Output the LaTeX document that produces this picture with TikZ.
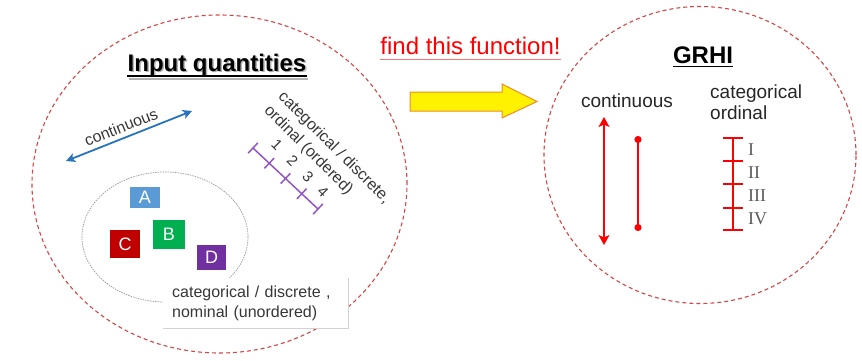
\documentclass[tikz,border=0pt]{standalone}
\usepackage{fontspec}
\setmainfont{Liberation Sans}
\newfontfamily\romfont{Liberation Serif}
\usetikzlibrary{arrows.meta,shapes.geometric}
\definecolor{circred}{RGB}{210,70,70}
\definecolor{arrblue}{RGB}{40,115,190}
\definecolor{scalepurple}{RGB}{145,85,195}
\definecolor{boxA}{RGB}{91,155,213}
\definecolor{boxB}{RGB}{0,176,80}
\definecolor{boxC}{RGB}{192,0,0}
\definecolor{boxD}{RGB}{112,48,160}
\definecolor{txtgrey}{RGB}{55,55,55}
\definecolor{arroworange}{RGB}{235,140,40}
\begin{document}
\begin{tikzpicture}[x=1pt,y=-1pt,
  redcirc/.style={ellipse, draw=circred, dash pattern=on 4pt off 3pt, line width=1.1pt, inner sep=0pt},
  catbox/.style={inner sep=0pt, text=white, font=\fontsize{18}{18}\selectfont},
  plain/.style={inner sep=0pt, text=txtgrey},
  redline/.style={draw=red, line width=1.8pt},
  purpleline/.style={draw=scalepurple, line width=1.5pt}]
\useasboundingbox (0,0) rectangle (862,361);

% big circles
\node[redcirc, minimum width=375pt, minimum height=338pt] (inputs) at (219.5,184) {};
\node[redcirc, minimum width=312pt, minimum height=297pt] (grhi) at (700,155) {};

% titles
\node[inner sep=0pt, anchor=base, text=gray!60, font=\fontsize{24}{28}\selectfont\bfseries] (titleshadow) at (218.5,73) {Input quantities};
\draw[gray!60, line width=1.5pt] ([yshift=-6pt]titleshadow.base west) -- ([yshift=-6pt]titleshadow.base east);
\node[inner sep=0pt, anchor=base, font=\fontsize{24}{28}\selectfont\bfseries] (title) at (217,71.5) {Input quantities};
\draw[line width=1.5pt] ([yshift=-4.5pt]title.base west) -- ([yshift=-4.5pt]title.base east);

\node[inner sep=0pt, anchor=base, text=red, font=\fontsize{24}{28}\selectfont] (find) at (470.5,55) {find this function!};
\draw[red!55, line width=1pt] ([yshift=-4.5pt]find.base west) -- ([yshift=-4.5pt]find.base east);

\node[inner sep=0pt, anchor=base, font=\fontsize{24}{28}\selectfont\bfseries] (gtitle) at (703,63.3) {GRHI};
\draw[line width=1.3pt] ([yshift=-3.5pt]gtitle.base west) -- ([yshift=-3.5pt]gtitle.base east);

% yellow arrow
\draw[fill=yellow, draw=arroworange, line width=1pt] (410,92) -- (502,92) -- (502,84) -- (537,101.5) -- (502,118) -- (502,111) -- (410,111) -- cycle;

% continuous (left)
\coordinate (cl1) at (66,161);
\coordinate (cl2) at (192,111);
\draw[draw=arrblue, line width=1.8pt, {Stealth[length=9pt,width=9pt,inset=2pt]}-{Stealth[length=9pt,width=9pt,inset=2pt]}] (cl1) -- (cl2);
\node[plain, rotate=21.6, font=\fontsize{16}{19}\selectfont] (contl) at (121,127) {continuous};

% ordinal scale (left)
\coordinate (p0) at (253,148);
\coordinate (p1) at (269.25,163.25);
\coordinate (p2) at (285.5,178.5);
\coordinate (p3) at (301.75,193.75);
\coordinate (p4) at (318,209);
\draw[purpleline] (p0) -- (p4);
\foreach \p in {p0,p1,p2,p3,p4}{
  \draw[purpleline] (\p) ++(4.8,-5.1) -- ++(-9.6,10.2);
}
\node[plain, rotate=-45, font=\fontsize{15}{15}\selectfont] (n1) at (277,145) {1};
\node[plain, rotate=-45, font=\fontsize{15}{15}\selectfont] (n2) at (292.5,161) {2};
\node[plain, rotate=-45, font=\fontsize{15}{15}\selectfont] (n3) at (308,176.5) {3};
\node[plain, rotate=-45, font=\fontsize{15}{15}\selectfont] (n4) at (323,192) {4};
\node[plain, rotate=-45, align=left, font=\fontsize{16}{20}\selectfont] (ordtext) at (327,155) {categorical / discrete,\\ordinal (ordered)};

% nominal set
\node[ellipse, draw=gray!80, dash pattern=on 1.5pt off 1pt, line width=0.7pt, minimum width=166pt, minimum height=130pt, inner sep=0pt] (nomset) at (165,237) {};
\node[catbox, fill=boxA, minimum width=30pt, minimum height=21pt] (A) at (145,197.5) {A};
\node[catbox, fill=boxB, minimum width=32pt, minimum height=29pt] (B) at (169,234.5) {B};
\node[catbox, fill=boxC, minimum width=30pt, minimum height=28pt] (C) at (125,244) {C};
\node[catbox, fill=boxD, minimum width=29pt, minimum height=25pt] (D) at (211.5,257.5) {D};
\node[fill=white, anchor=north west, minimum width=185pt, minimum height=50pt, text width=167pt, inner xsep=9pt, inner ysep=0pt, align=left, text=txtgrey, font=\fontsize{16}{20}\selectfont] (nombox) at (163,278) {categorical / discrete ,\\nominal (unordered)};
\draw[gray!35, line width=1pt] (nombox.north east) -- (nombox.south east) -- (nombox.south west);

% right side
\node[inner sep=0pt, text=black!85, font=\fontsize{19}{21}\selectfont] (contr) at (627,101) {continuous};
\node[inner sep=0pt, anchor=west, align=left, text=black!85, font=\fontsize{19}{21}\selectfont] (catord) at (710,102.5) {categorical\\ordinal};

\coordinate (ra1) at (604,117);
\coordinate (ra2) at (604,245);
\draw[redline, {Stealth[length=10pt,width=11pt,inset=2.5pt]}-{Stealth[length=10pt,width=11pt,inset=2.5pt]}] (ra1) -- (ra2);
\coordinate (rd1) at (638,136);
\coordinate (rd2) at (638,231);
\draw[redline, {Circle[length=7pt]}-{Circle[length=7pt]}] (rd1) -- (rd2);

\coordinate (q0) at (733,138);
\coordinate (q1) at (733,161);
\coordinate (q2) at (733,184);
\coordinate (q3) at (733,208);
\coordinate (q4) at (733,230);
\draw[redline] (q0) -- (q4);
\foreach \q in {q0,q1,q2,q3,q4}{
  \draw[draw=red, line width=1.5pt] (\q) ++(-10,0) -- ++(20,0);
}
\node[inner sep=0pt, anchor=west, text=black!65, font=\fontsize{18}{18}\romfont] (r1) at (748,149.5) {I};
\node[inner sep=0pt, anchor=west, text=black!65, font=\fontsize{18}{18}\romfont] (r2) at (748,172.5) {II};
\node[inner sep=0pt, anchor=west, text=black!65, font=\fontsize{18}{18}\romfont] (r3) at (748,196) {III};
\node[inner sep=0pt, anchor=west, text=black!65, font=\fontsize{18}{18}\romfont] (r4) at (748,219) {IV};
\end{tikzpicture}
\end{document}
